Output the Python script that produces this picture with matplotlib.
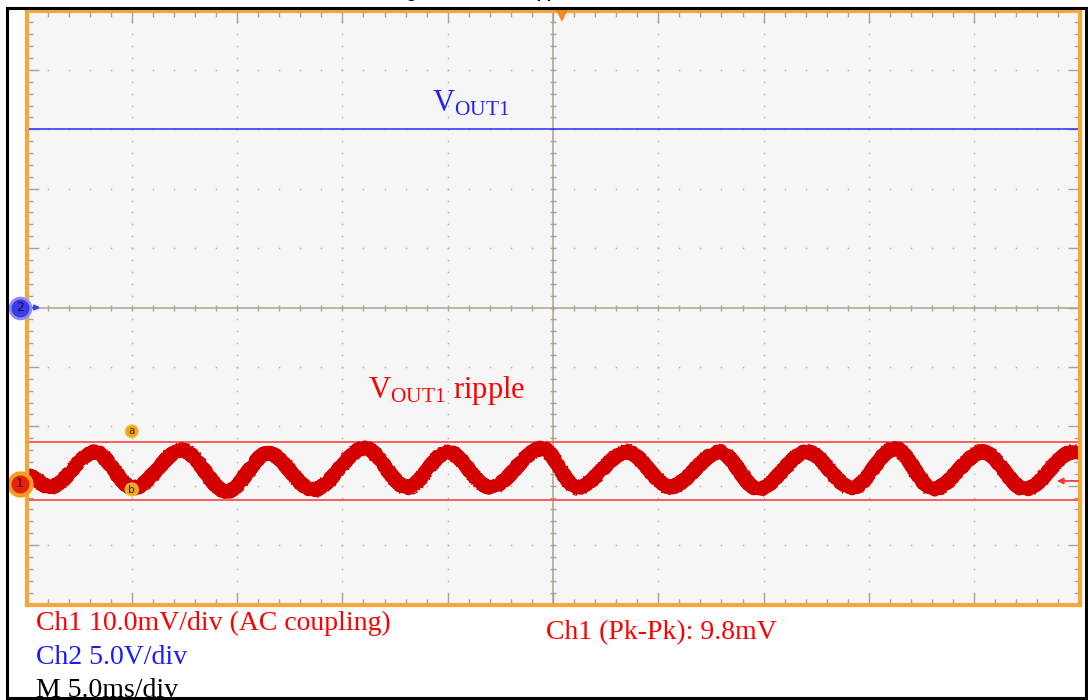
import numpy as np
import matplotlib

matplotlib.use("Agg")
import matplotlib.pyplot as plt
import matplotlib.transforms as mtransforms
from matplotlib.path import Path
from matplotlib.patches import PathPatch, Rectangle

# scope settings
ms_per_div = 5.0
ch1_mv_per_div = 10.0
ch2_v_per_div = 5.0
ch1_pos_div = -2.97
ch2_pos_div = 0.0

# Ch2: output voltage (flat)
vout1_v = 15.0

# Ch1: ripple extrema (time in ms, mV relative to Ch1 marker)
ripple_t_ms = [0.0, 1.12, 3.25, 5.06, 7.38, 9.52, 11.47, 13.6, 16.07, 18.07,
               20.01, 22.01, 24.48, 26.14, 28.52, 30.56, 32.93, 34.74, 37.06,
               39.2, 41.24, 43.05, 45.42, 47.42, 49.7, 50.0]
ripple_mv = [1.5, -0.5, 5.4, -0.7, 5.7, -1.3, 5.2, -1.0, 6.0, -0.6,
             5.4, -0.6, 6.0, -0.6, 5.4, -0.5, 5.4, -0.9, 5.4,
             -0.7, 6.0, -0.9, 5.4, -0.9, 5.4, 5.3]

# cursors a / b and trigger
cursor_a_mv = 7.1
cursor_b_mv = -2.7
cursor_t_ms = 5.0
trigger_t_ms = 25.45
trigger_level_mv = 0.5

plt.rcParams["mathtext.fontset"] = "custom"
plt.rcParams["mathtext.rm"] = "Liberation Serif"
plt.rcParams["mathtext.it"] = "Liberation Serif:italic"

W, H = 1088, 700
fig = plt.figure(figsize=(W / 100, H / 100), dpi=100)
fig.patch.set_facecolor("white")

ax = fig.add_axes([26.5 / W, (H - 604.5) / H, 1053 / W, 594 / H])
ax.set_facecolor("#f6f6f6")
ax.set_xlim(0, 10 * ms_per_div)
ax.set_ylim(-5, 5)

orange = "#f4a83c"
for s in ax.spines.values():
    s.set_color(orange)
    s.set_linewidth(3)
    s.set_zorder(6)

grid_c = "#aaa392"
ax.set_xticks(np.arange(0, 10 * ms_per_div + 0.1, ms_per_div))
ax.set_xticks(np.arange(0, 10 * ms_per_div + 0.1, ms_per_div / 5), minor=True)
ax.set_yticks(np.arange(-5, 5.1, 1))
ax.set_yticks(np.arange(-5, 5.01, 0.2), minor=True)
ax.tick_params(which="both", direction="in", top=True, right=True,
               labelbottom=False, labelleft=False, color=grid_c, width=1)
ax.tick_params(which="major", length=8.5)
ax.tick_params(which="minor", length=4.5)

# dotted graticule
x_minor = np.arange(1, 50, 1.0)
y_minor = np.round(np.arange(-4.8, 4.81, 0.2), 2)
dot_c = "#bdb6a6"
for gx in [5, 10, 15, 20, 30, 35, 40, 45]:
    ax.plot([gx] * len(y_minor), y_minor, ls="none", marker="s", ms=1.1,
            mew=0, color=dot_c, zorder=1)
for gy in [-4, -3, -2, -1, 1, 2, 3, 4]:
    ax.plot(x_minor, [gy] * len(x_minor), ls="none", marker="s", ms=1.1,
            mew=0, color=dot_c, zorder=1)

# center crosshair with ticks
ax.axvline(25, color=grid_c, lw=1.1, zorder=1)
ax.axhline(0, color=grid_c, lw=1.1, zorder=1)
ax.plot([25] * len(y_minor), y_minor, ls="none", marker="_", ms=5, mew=1,
        color=grid_c, zorder=1)
ax.plot(x_minor, [0] * len(x_minor), ls="none", marker="|", ms=5, mew=1,
        color=grid_c, zorder=1)

# Ch2 trace
ax.axhline(ch2_pos_div + vout1_v / ch2_v_per_div, color="#3a3af0", lw=1.2, zorder=3)

# cursors
red_cur = "#ff5050"
ya = ch1_pos_div + cursor_a_mv / ch1_mv_per_div
yb = ch1_pos_div + cursor_b_mv / ch1_mv_per_div
ax.axhline(ya, color=red_cur, lw=1.3, zorder=3)
ax.axhline(yb, color=red_cur, lw=1.3, zorder=3)

# Ch1 ripple trace as smooth bezier through extrema
tx = np.array(ripple_t_ms)
ty = ch1_pos_div + np.array(ripple_mv) / ch1_mv_per_div
verts = [(tx[0], ty[0])]
codes = [Path.MOVETO]
for i in range(len(tx) - 1):
    dt = tx[i + 1] - tx[i]
    verts += [(tx[i] + dt / 3, ty[i]), (tx[i + 1] - dt / 3, ty[i + 1]),
              (tx[i + 1], ty[i + 1])]
    codes += [Path.CURVE4] * 3
path = Path(verts, codes)

trace_c = "#d40000"
core = PathPatch(path, fill=False, ec=trace_c, lw=8.5, joinstyle="round", zorder=4)
core.set_sketch_params(scale=2, length=3, randomness=2)
ax.add_patch(core)
for sc, ln in [(8, 1.0), (6, 1.5)]:
    fuzz = PathPatch(path, fill=False, ec=trace_c, lw=0.8, zorder=4)
    fuzz.set_sketch_params(scale=sc, length=ln, randomness=2)
    ax.add_patch(fuzz)

# cursor labels
for lab, yc in [("a", ya), ("b", yb)]:
    ax.annotate(lab, xy=(cursor_t_ms, yc), xytext=(0, 7.5), textcoords="offset points",
                ha="center", va="center", fontsize=7.5, color="#3a2a00",
                bbox=dict(boxstyle="circle,pad=0.15", fc="#f2a516", ec="#f8c860", lw=0.8),
                zorder=7)

# channel markers on the left edge
trans = mtransforms.blended_transform_factory(ax.transAxes, ax.transData)
mx = -0.0062
ax.annotate("", xy=(0.013, ch2_pos_div), xycoords=trans,
            xytext=(0.0, ch2_pos_div), textcoords=trans,
            arrowprops=dict(arrowstyle="-|>", color="#3c3cf0", lw=1.2,
                            mutation_scale=8, shrinkA=0, shrinkB=0), zorder=8)
ax.annotate("", xy=(0.013, ch1_pos_div), xycoords=trans,
            xytext=(0.0, ch1_pos_div), textcoords=trans,
            arrowprops=dict(arrowstyle="-|>", color="#ff3030", lw=1.2,
                            mutation_scale=8, shrinkA=0, shrinkB=0), zorder=3)
ax.plot([mx], [ch2_pos_div], marker="o", ms=15, mfc="#3c3ce6", mec="#8e8ef5",
        mew=2, transform=trans, clip_on=False, zorder=10)
ax.text(mx, ch2_pos_div, "2", transform=trans, ha="center", va="center",
        fontsize=9, color="#10103a", zorder=11)
ax.plot([mx], [ch1_pos_div], marker="o", ms=16, mfc="#e82010", mec="#f7a020",
        mew=3, transform=trans, clip_on=False, zorder=10)
ax.text(mx, ch1_pos_div, "1", transform=trans, ha="center", va="center",
        fontsize=9, color="#3a0a00", zorder=11)

# trigger level arrow on the right edge
yt = ch1_pos_div + trigger_level_mv / ch1_mv_per_div
ax.annotate("", xy=(0.9786, yt), xycoords=trans, xytext=(0.9986, yt), textcoords=trans,
            arrowprops=dict(arrowstyle="-|>", color="#ff3030", lw=1.2,
                            mutation_scale=9, shrinkA=0, shrinkB=0), zorder=8)

# trigger position marker on top edge
tri_tr = mtransforms.offset_copy(ax.transData, fig=fig, y=-5, units="dots")
ax.plot([trigger_t_ms], [5], marker="v", ms=8, color="#f28c1a", mew=0,
        transform=tri_tr, clip_on=False, zorder=12)

# labels on the screen
serif = "Liberation Serif"
fig.text(432 / W, 1 - 112 / H, r"$\mathrm{V}_{\mathrm{OUT1}}$", color="#2020ff",
         fontsize=22, va="baseline", ha="left")
fig.text(368 / W, 1 - 398 / H, r"$\mathrm{V}_{\mathrm{OUT1}}$ ripple", color="#ff0000",
         fontsize=22, family=serif, va="baseline", ha="left")

# readouts below the screen
fig.text(36 / W, 1 - 630 / H, "Ch1 10.0mV/div (AC coupling)", color="#ff0000",
         fontsize=20, family=serif, va="baseline")
fig.text(36 / W, 1 - 664 / H, "Ch2 5.0V/div", color="#1a1aff",
         fontsize=20, family=serif, va="baseline")
fig.text(36 / W, 1 - 697 / H, "M 5.0ms/div", color="black",
         fontsize=20, family=serif, va="baseline")
fig.text(546 / W, 1 - 639 / H, "Ch1 (Pk-Pk): 9.8mV", color="#ff0000",
         fontsize=20, family=serif, va="baseline")

# clipped figure caption above the frame
fig.text(392 / W, 1 + 2 / H, "Figure 8. VOUT1 ripple", color="black",
         fontsize=12, family="Liberation Sans", weight="bold", va="baseline")

# black outer frame
fig.add_artist(Rectangle((7 / W, (H - 697.5) / H), (1086 - 7) / W, (697.5 - 8) / H,
                         transform=fig.transFigure, fill=False, ec="black", lw=2.2,
                         zorder=20))

fig.savefig("out.png", dpi=100)
